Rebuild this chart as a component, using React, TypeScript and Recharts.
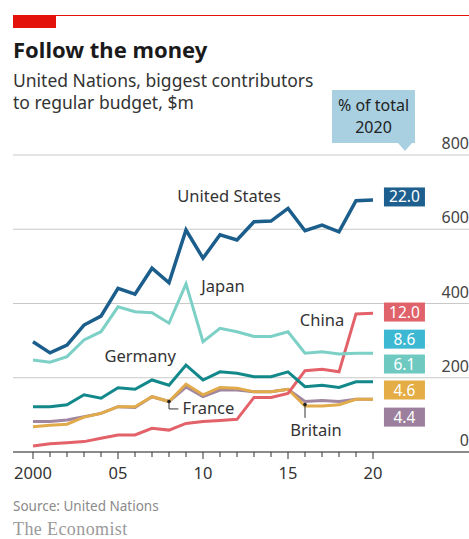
import React from "react";
import {
  CartesianGrid,
  Line,
  LineChart,
  ReferenceDot,
  ReferenceLine,
  XAxis,
  YAxis,
} from "recharts";

const years = [
  2000, 2001, 2002, 2003, 2004, 2005, 2006, 2007, 2008, 2009, 2010,
  2011, 2012, 2013, 2014, 2015, 2016, 2017, 2018, 2019, 2020,
];
const unitedStates = [297, 267, 288, 342, 366, 441, 425, 495, 456, 598, 522, 585, 571, 620, 622, 656, 596, 611, 593, 677, 679];
const japan = [248, 242, 257, 302, 324, 391, 378, 375, 347, 453, 297, 333, 324, 311, 311, 324, 266, 270, 264, 266, 266];
const germany = [122, 122, 127, 154, 145, 173, 169, 194, 180, 234, 194, 216, 212, 203, 203, 216, 176, 180, 174, 189, 189];
const france = [68, 72, 75, 94, 104, 122, 122, 149, 136, 183, 154, 174, 172, 162, 162, 169, 124, 124, 127, 142, 142];
const britain = [82, 82, 86, 95, 104, 122, 120, 149, 136, 175, 149, 167, 167, 162, 162, 169, 136, 139, 136, 142, 142];
const china = [16, 22, 25, 28, 37, 46, 46, 64, 59, 77, 82, 85, 88, 147, 147, 158, 219, 223, 216, 372, 374];

const yTicks = [0, 200, 400, 600, 800];
const shareLabels = ["22.0", "12.0", "8.6", "6.1", "4.6", "4.4"];

const data = years.map((year, i) => ({
  year,
  us: unitedStates[i],
  japan: japan[i],
  germany: germany[i],
  france: france[i],
  britain: britain[i],
  china: china[i],
}));

// layout for the share boxes on the right (value-axis units)
const boxX = 2021.85;
const boxY = [687, 377, 304, 237, 167, 94];
const boxColors = ["#1d5f8e", "#e0626a", "#3cb8d3", "#6ecac0", "#e4ad45", "#9c7f9c"];

const FONT = "'Noto Sans', 'Open Sans', sans-serif";

const YearTick = (props: any) => {
  const { x, y, payload } = props;
  const major = payload.value % 5 === 0;
  const label = payload.value === 2000 ? "2000" : String(payload.value % 100).padStart(2, "0");
  return (
    <g>
      <line x1={x} x2={x} y1={y} y2={y + (major ? 7 : 5)} stroke="#333" strokeWidth={1} />
      {major && (
        <text x={x} y={y + 27} textAnchor="middle" fontSize={16.5} fill="#333" fontFamily={FONT}>
          {label}
        </text>
      )}
    </g>
  );
};

const ValueTick = (props: any) => {
  const { x, y, payload } = props;
  return (
    <text x={x} y={y - 6} textAnchor="end" fontSize={16} fill="#444" fontFamily={FONT}>
      {payload.value}
    </text>
  );
};

const textShape = (label: string, anchor: "start" | "middle" = "middle") => (p: any) => (
  <text x={p.cx} y={p.cy + 5.5} textAnchor={anchor} fontSize={16.5} fill="#333" fontFamily={FONT}>
    {label}
  </text>
);

const boxShape = (label: string, color: string) => (p: any) => (
  <g>
    <rect x={p.cx - 20.5} y={p.cy - 9.5} width={41} height={19} fill={color} />
    <text x={p.cx} y={p.cy + 5.5} textAnchor="middle" fontSize={15.5} fill="#fff" fontFamily={FONT}>
      {label}
    </text>
  </g>
);

export default function App() {
  return (
    <div
      style={{
        position: "absolute",
        left: 0,
        top: 0,
        width: 469,
        height: 539,
        background: "#fff",
        overflow: "hidden",
      }}
    >
      <LineChart
        width={469}
        height={539}
        data={data}
        margin={{ top: 155, right: 0, bottom: 57, left: 13 }}
        style={{ position: "absolute", left: 0, top: 0 }}
      >
        <CartesianGrid vertical={false} stroke="#c9c9c9" strokeWidth={1} />
        <XAxis
          dataKey="year"
          type="number"
          domain={[1998.8235, 2025.647]}
          allowDataOverflow
          ticks={years}
          interval={0}
          height={30}
          tickSize={0}
          tickMargin={0}
          tick={<YearTick />}
          axisLine={{ stroke: "#333", strokeWidth: 1 }}
        />
        <YAxis
          orientation="right"
          mirror
          width={40}
          domain={[0, 800]}
          ticks={yTicks}
          axisLine={false}
          tickLine={false}
          tickSize={0}
          tickMargin={0}
          tick={<ValueTick />}
        />
        <Line dataKey="britain" stroke="#a086a0" strokeWidth={3} dot={false} isAnimationActive={false} />
        <Line dataKey="france" stroke="#e1aa4a" strokeWidth={3} dot={false} isAnimationActive={false} />
        <Line dataKey="china" stroke="#e3626a" strokeWidth={3} dot={false} isAnimationActive={false} />
        <Line dataKey="germany" stroke="#12888a" strokeWidth={3} dot={false} isAnimationActive={false} />
        <Line dataKey="japan" stroke="#7cd0c6" strokeWidth={3} dot={false} isAnimationActive={false} />
        <Line dataKey="us" stroke="#1b5e8c" strokeWidth={3.5} dot={false} isAnimationActive={false} />

        <ReferenceDot x={2011.53} y={687} r={0} ifOverflow="visible" shape={textShape("United States")} />
        <ReferenceDot x={2011.18} y={447} r={0} ifOverflow="visible" shape={textShape("Japan")} />
        <ReferenceDot x={2017.0} y={353} r={0} ifOverflow="visible" shape={textShape("China")} />
        <ReferenceDot x={2006.3} y={256} r={0} ifOverflow="visible" shape={textShape("Germany")} />
        <ReferenceDot x={2008.8} y={118} r={0} ifOverflow="visible" shape={textShape("France", "start")} />
        <ReferenceDot x={2016.65} y={59} r={0} ifOverflow="visible" shape={textShape("Britain")} />

        <ReferenceLine segment={[{ x: 2008, y: 136 }, { x: 2008, y: 116 }]} stroke="#333" strokeWidth={1} />
        <ReferenceLine segment={[{ x: 2008, y: 116 }, { x: 2008.55, y: 116 }]} stroke="#333" strokeWidth={1} />
        <ReferenceDot x={2008} y={136} r={1.8} fill="#222" stroke="none" />
        <ReferenceLine segment={[{ x: 2016, y: 128 }, { x: 2016, y: 92 }]} stroke="#333" strokeWidth={1} />
        <ReferenceDot x={2016} y={128} r={1.8} fill="#222" stroke="none" />

        {shareLabels.map((s, i) => (
          <ReferenceDot
            key={s + i}
            x={boxX}
            y={boxY[i]}
            r={0}
            ifOverflow="visible"
            shape={boxShape(s, boxColors[i])}
          />
        ))}
      </LineChart>

      <svg
        width={469}
        height={539}
        style={{ position: "absolute", left: 0, top: 0, pointerEvents: "none" }}
        fontFamily={FONT}
      >
        <rect x={13} y={15} width={456} height={1} fill="#e3120b" />
        <rect x={13} y={15} width={43} height={13} fill="#e3120b" />
        <text x={13} y={58} fontSize={22} fontWeight={700} fill="#1a1a1a">
          Follow the money
        </text>
        <text x={13} y={87} fontSize={17.5} fill="#333">
          United Nations, biggest contributors
        </text>
        <text x={13} y={109} fontSize={17.5} fill="#333">
          to regular budget, $m
        </text>
        <rect x={332} y={90} width={83} height={53} fill="#a9d0e1" />
        <polygon points="398,143 412,143 405,151" fill="#a9d0e1" />
        <text x={373.5} y={111} textAnchor="middle" fontSize={16} fill="#222">
          % of total
        </text>
        <text x={373.5} y={133} textAnchor="middle" fontSize={16} fill="#222">
          2020
        </text>
        <text x={13} y={511} fontSize={13.5} fill="#8a8a8a">
          Source: United Nations
        </text>
        <text
          x={13}
          y={535}
          fontSize={18}
          letterSpacing={0.4}
          fill="#9a9a9a"
          fontFamily="'Liberation Serif', 'DejaVu Serif', serif"
        >
          The Economist
        </text>
      </svg>
    </div>
  );
}
